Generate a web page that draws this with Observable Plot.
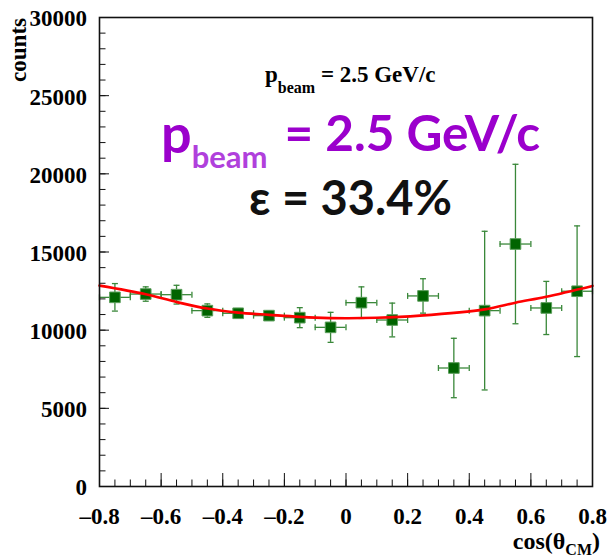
<!DOCTYPE html>
<html>
<head>
<meta charset="utf-8">
<script src="https://cdn.jsdelivr.net/npm/d3@7"></script>
<script src="https://cdn.jsdelivr.net/npm/@observablehq/plot@0.6"></script>
<style>
  html, body { margin: 0; padding: 0; background: #fff; }
  #chart { width: 607px; height: 556px; }
</style>
</head>
<body>
<div id="chart"></div>
<script>
// Angular distribution: counts per cos(theta_CM) bin, with statistical errors
const binCenters   = [-0.75, -0.65, -0.55, -0.45, -0.35, -0.25, -0.15, -0.05, 0.05, 0.15, 0.25, 0.35, 0.45, 0.55, 0.65, 0.75];
const binHalfWidth = 0.05;
const counts       = [12100, 12310, 12270, 11250, 11080, 10930, 10800, 10180, 11760, 10650, 12190, 7580, 11250, 15510, 11420, 12490];
const countErrors  = [880, 460, 600, 430, 300, 300, 640, 960, 1010, 1080, 1100, 1900, 5075, 5100, 1700, 4180];

// Fitted curve, sampled along cos(theta_CM)
const fitCos    = [-0.8, -0.65, -0.55, -0.45, -0.35, -0.25, -0.1, 0, 0.1, 0.24, 0.45, 0.55, 0.65, 0.8];
const fitCounts = [12850, 12300, 11800, 11380, 11120, 10980, 10800, 10760, 10790, 10930, 11330, 11760, 12140, 12830];

// Axis ticks and labels
const xMajorTicks = [-0.8, -0.6, -0.4, -0.2, 0, 0.2, 0.4, 0.6, 0.8];
const xTickLabels = ["\u20130.8", "\u20130.6", "\u20130.4", "\u20130.2", "0", "0.2", "0.4", "0.6", "0.8"];
const yMajorTicks = [0, 5000, 10000, 15000, 20000, 25000, 30000];
const yTickLabels = ["0", "5000", "10000", "15000", "20000", "25000", "30000"];

// Annotation values
const beamMomentum = 2.5;   // GeV/c
const efficiency   = 33.4;  // percent

const xMinorTicks = d3.range(-16, 17).map(i => i / 20);
const yMinorTicks = d3.range(0, 31).map(i => i * 1000);

const data = binCenters.map((x, i) => ({x, y: counts[i], e: countErrors[i]}));
const fit = fitCos.map((x, i) => ({x, y: fitCounts[i]}));

const markerGreen = "#006400";
const barGreen = "#3a883a";

// small cap symbols for the error-bar ends
const capH = {draw(ctx, size) { const r = Math.sqrt(size / Math.PI); ctx.moveTo(-r, 0); ctx.lineTo(r, 0); }};
const capV = {draw(ctx, size) { const r = Math.sqrt(size / Math.PI); ctx.moveTo(0, -r); ctx.lineTo(0, r); }};
const capStyle = {r: 3, stroke: barGreen, strokeWidth: 1.3, fill: "none"};

const svg = Plot.plot({
  width: 607,
  height: 556,
  marginLeft: 99,
  marginRight: 15,
  marginTop: 17,
  marginBottom: 70,
  style: {
    background: "white",
    color: "black",
    fontFamily: "'Liberation Serif', 'DejaVu Serif', serif",
    fontSize: "23px",
    fontWeight: "bold",
    overflow: "visible"
  },
  x: {domain: [-0.8, 0.8], axis: null, label: null},
  y: {domain: [0, 30000], axis: null, label: null},
  marks: [
    // error bars
    Plot.ruleX(data, {x: "x", y1: d => d.y - d.e, y2: d => d.y + d.e, stroke: barGreen, strokeWidth: 1.3}),
    Plot.ruleY(data, {y: "y", x1: d => d.x - binHalfWidth, x2: d => d.x + binHalfWidth, stroke: barGreen, strokeWidth: 1.3}),
    Plot.dot(data, {x: "x", y: d => d.y + d.e, symbol: capH, ...capStyle}),
    Plot.dot(data, {x: "x", y: d => d.y - d.e, symbol: capH, ...capStyle}),
    Plot.dot(data, {x: d => d.x - binHalfWidth, y: "y", symbol: capV, ...capStyle}),
    Plot.dot(data, {x: d => d.x + binHalfWidth, y: "y", symbol: capV, ...capStyle}),
    // markers
    Plot.dot(data, {x: "x", y: "y", symbol: "square", r: 6, fill: markerGreen, stroke: "#5a9e5a", strokeWidth: 1}),
    // fit
    Plot.line(fit, {x: "x", y: "y", curve: "catmull-rom", stroke: "#ff0000", strokeWidth: 2.6}),
    // inward ticks
    Plot.axisY({ticks: yMinorTicks, tickSize: -6.5, fill: null, label: null, stroke: "#111"}),
    Plot.axisY({ticks: yMajorTicks, tickSize: -10, fill: null, label: null, stroke: "#111"}),
    Plot.axisX({ticks: xMinorTicks, tickSize: -6.5, fill: null, label: null, stroke: "#111"}),
    Plot.axisX({ticks: xMajorTicks, tickSize: -13, fill: null, label: null, stroke: "#111"}),
    // tick labels
    Plot.axisY({ticks: yMajorTicks, tickSize: 0, tickPadding: 12.5, dy: 1.5, label: null,
                tickFormat: d => yTickLabels[yMajorTicks.indexOf(d)]}),
    Plot.axisX({ticks: xMajorTicks, tickSize: 0, tickPadding: 21, label: null,
                tickFormat: d => xTickLabels[xMajorTicks.indexOf(d)]}),
    Plot.frame({stroke: "#111", strokeWidth: 1.6})
  ]
});

document.getElementById("chart").appendChild(svg);

const root = d3.select(svg);

// axis titles
root.append("text")
  .attr("transform", "translate(26,18) rotate(-90)")
  .attr("text-anchor", "end")
  .attr("font-family", "'Liberation Serif', serif")
  .attr("font-weight", "bold")
  .attr("font-size", 23)
  .attr("fill", "black")
  .text("counts");

const xTitle = root.append("text")
  .attr("x", 600).attr("y", 549)
  .attr("text-anchor", "end")
  .attr("font-family", "'Liberation Serif', serif")
  .attr("font-weight", "bold")
  .attr("font-size", 24)
  .attr("fill", "black");
xTitle.append("tspan").text("cos(\u03b8");
xTitle.append("tspan").attr("font-size", 16).attr("dy", 6).text("CM");
xTitle.append("tspan").attr("dy", -6).text(")");

// small title
const smallTitle = root.append("text")
  .attr("x", 265).attr("y", 82)
  .attr("text-anchor", "start")
  .attr("font-family", "'Liberation Serif', serif")
  .attr("font-weight", "bold")
  .attr("font-size", 23)
  .attr("fill", "black");
smallTitle.append("tspan").text("p");
smallTitle.append("tspan").attr("font-size", 16).attr("dy", 11).text("beam");
smallTitle.append("tspan").attr("dy", -11).text(` = ${beamMomentum} GeV/c`);

// large annotations
const big = root.append("text")
  .attr("x", 161).attr("y", 153)
  .attr("text-anchor", "start")
  .attr("font-family", "Lato, 'Open Sans', sans-serif")
  .attr("font-weight", "bold")
  .attr("font-size", 54)
  .attr("fill", "#9b00cc");
big.append("tspan").text("p");
big.append("tspan").attr("font-size", 31).attr("dy", 15).attr("fill", "#b040dc").text("beam");
big.append("tspan").attr("font-size", 49.5).attr("dy", -17).attr("dx", 17).text(`= ${beamMomentum} GeV/c`);

root.append("text")
  .attr("x", 249).attr("y", 215)
  .attr("text-anchor", "start")
  .attr("font-family", "Lato, 'Open Sans', sans-serif")
  .attr("font-weight", "bold")
  .attr("font-size", 47)
  .attr("fill", "#111")
  .text(`\u03b5 = ${efficiency}%`);
</script>
</body>
</html>
